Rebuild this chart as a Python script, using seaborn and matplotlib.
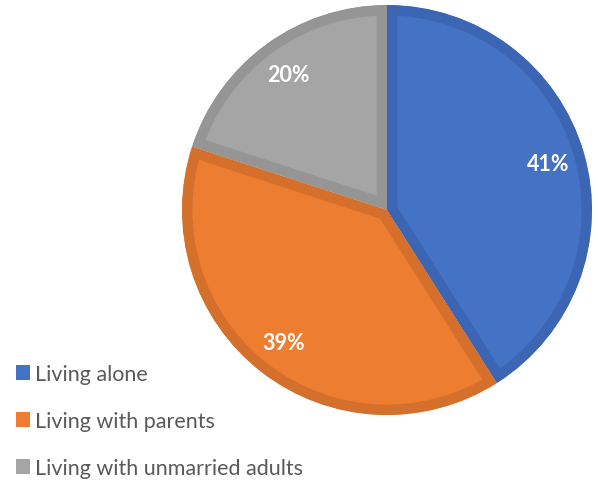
import matplotlib
matplotlib.use("Agg")
import matplotlib.pyplot as plt
from matplotlib.patches import Patch
import seaborn as sns

categories = ["Living alone", "Living with parents", "Living with unmarried adults"]
shares = [41, 39, 20]
fill_colors = ["#4472C4", "#ED7D31", "#A5A5A5"]
edge_colors = ["#3C66B4", "#D46F2C", "#959595"]

sns.set_theme(style="white")
plt.rcParams["font.family"] = ["Lato", "DejaVu Sans"]

fig = plt.figure(figsize=(5.98, 4.85), dpi=100)
r_px = 205
cx, cy = 387, 485 - 211
ax = fig.add_axes([(cx - r_px) / 598, (cy - r_px) / 485, 2 * r_px / 598, 2 * r_px / 485])

wedges, texts, autotexts = ax.pie(
    shares,
    colors=fill_colors,
    startangle=90,
    counterclock=False,
    autopct="%d%%",
    pctdistance=0.82,
    textprops=dict(color="white", fontsize=15.5, fontweight="bold"),
    wedgeprops=dict(linewidth=0),
)
# inner stroke in a darker shade of each slice
for w, ec in zip(wedges, edge_colors):
    w.set_edgecolor(ec)
    w.set_linewidth(15)
    w.set_clip_on(True)
    w.set_clip_path(w)
ax.set_xlim(-1, 1)
ax.set_ylim(-1, 1)
ax.set_aspect("equal")
ax.axis("off")

handles = [Patch(facecolor=c, edgecolor="none") for c in fill_colors]
fig.legend(
    handles, categories,
    loc="upper left", bbox_to_anchor=(0.5 / 598, 1 - 350 / 485),
    frameon=False, fontsize=15.5, labelcolor="#595959",
    handlelength=0.65, handleheight=0.65, handletextpad=0.25,
    labelspacing=1.25, borderpad=0.2,
)

fig.savefig("out.png", dpi=100)
